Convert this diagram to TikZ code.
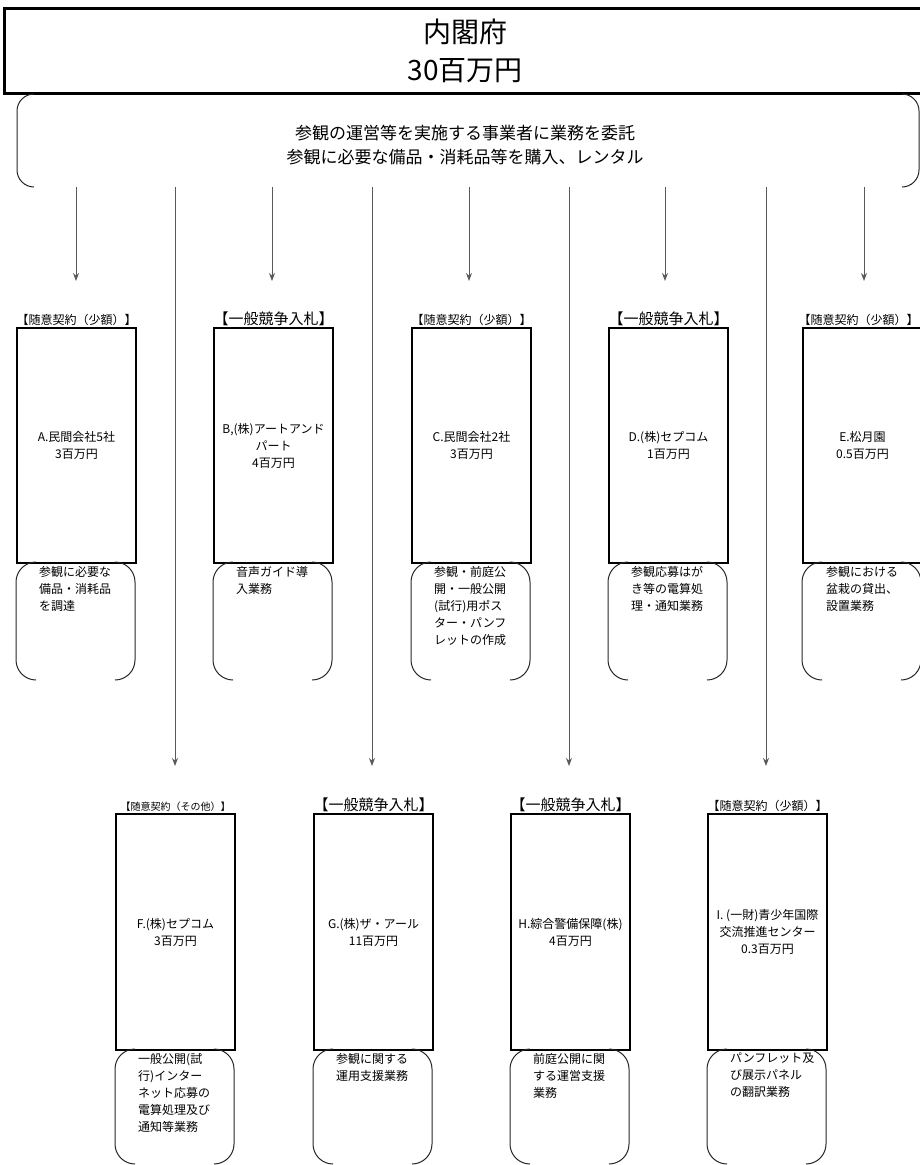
\documentclass[tikz,border=0pt]{standalone}
\usepackage{fontspec}
\setmainfont{Noto Sans CJK JP}
\usetikzlibrary{arrows.meta}
\newcommand\bktpair[5]{%
  \draw[brk] (#1+#5,#2) .. controls (#1+0.45*#5,#2) and (#1,#2+0.45*#5) .. (#1,#2+#5) -- (#1,#4-#5) .. controls (#1,#4-0.45*#5) and (#1+0.45*#5,#4) .. (#1+#5,#4);
  \draw[brk] (#3-#5,#2) .. controls (#3-0.45*#5,#2) and (#3,#2+0.45*#5) .. (#3,#2+#5) -- (#3,#4-#5) .. controls (#3,#4-0.45*#5) and (#3-0.45*#5,#4) .. (#3-#5,#4);
}
\begin{document}
\begin{tikzpicture}[x=1pt,y=-1pt,
  every node/.style={inner sep=0pt},
  firm/.style={draw, line width=2pt, minimum width=119pt, minimum height=235pt, anchor=north west, align=center, font=\fontsize{12}{17}\selectfont},
  lsmall/.style={anchor=south, font=\fontsize{12}{14}\selectfont, inner sep=1pt},
  lbig/.style={anchor=south, font=\fontsize{15}{17}\selectfont, inner sep=1pt},
  ltiny/.style={anchor=south, font=\fontsize{10}{12}\selectfont, inner sep=1pt},
  desc/.style={anchor=north west, align=left, font=\fontsize{12}{17}\selectfont},
  brk/.style={draw=black!85, line width=1pt},
  feed/.style={draw=black!65, line width=1pt, -{Stealth[length=8pt,width=6pt]}},
]
\useasboundingbox (0,0) rectangle (920,1165);
\clip (0,0) rectangle (920,1165);

% top
\node[draw, line width=2.5pt, minimum width=922pt, minimum height=85pt, anchor=north west, align=center, font=\fontsize{28}{38}\selectfont] (gov) at (3,7) {内閣府\\30百万円};
\bktpair{17}{94}{919}{187}{17}
\node[align=center, font=\fontsize{17}{24}\selectfont] (task) at (465,145) {参観の運営等を実施する事業者に業務を委託\\参観に必要な備品・消耗品等を購入、レンタル};

% top row boxes
\node[firm] (A) at (16,327) {A.民間会社5社\\3百万円};
\node[firm] (B) at (213,327) {B,(株)アートアンド\\パート\\4百万円};
\node[firm] (C) at (411,327) {C.民間会社2社\\3百万円};
\node[firm] (D) at (608,327) {D.(株)セプコム\\1百万円};
\node[firm] (E) at (802,327) {E.松月園\\0.5百万円};

\node[lsmall] (lA) at (A.north) {【随意契約（少額）】};
\node[lbig] (lB) at (B.north) {【一般競争入札】};
\node[lsmall] (lC) at (C.north) {【随意契約（少額）】};
\node[lbig] (lD) at (D.north) {【一般競争入札】};
\node[lsmall] (lE) at ([xshift=-4pt]E.north) {【随意契約（少額）】};

\bktpair{16}{562}{135}{680}{20}
\bktpair{213}{562}{332}{680}{20}
\bktpair{411}{562}{530}{680}{20}
\bktpair{608}{562}{727}{680}{20}
\bktpair{802}{562}{921}{680}{20}

\node[desc] (dA) at (39,566) {参観に必要な\\備品・消耗品\\を調達};
\node[desc] (dB) at (236,566) {音声ガイド導\\入業務};
\node[desc] (dC) at (434,566) {参観・前庭公\\開・一般公開\\(試行)用ポス\\ター・パンフ\\レットの作成};
\node[desc] (dD) at (631,566) {参観応募はが\\き等の電算処\\理・通知業務};
\node[desc] (dE) at (826,566) {参観における\\盆栽の貸出、\\設置業務};

% bottom row boxes
\node[firm, minimum height=236pt] (F) at (115,813) {F.(株)セプコム\\3百万円};
\node[firm, minimum height=236pt] (G) at (313,813) {G.(株)ザ・アール\\11百万円};
\node[firm, minimum height=236pt] (H) at (510,813) {H.綜合警備保障(株)\\4百万円};
\node[firm, minimum height=236pt] (I) at (707,813) {I. (一財)青少年国際\\交流推進センター\\0.3百万円};

\node[ltiny] (lF) at (F.north) {【随意契約（その他）】};
\node[lbig] (lG) at (G.north) {【一般競争入札】};
\node[lbig] (lH) at (H.north) {【一般競争入札】};
\node[lsmall] (lI) at (I.north) {【随意契約（少額）】};

\bktpair{115}{1049}{234}{1164}{20}
\bktpair{313}{1049}{432}{1164}{20}
\bktpair{510}{1049}{629}{1164}{20}
\bktpair{707}{1049}{826}{1164}{20}

\node[desc] (dF) at (138,1053) {一般公開(試\\行)インター\\ネット応募の\\電算処理及び\\通知等業務};
\node[desc] (dG) at (336,1053) {参観に関する\\運用支援業務};
\node[desc] (dH) at (533,1053) {前庭公開に関\\する運営支援\\業務};
\node[desc] (dI) at (730,1053) {パンフレット及\\び展示パネル\\の翻訳業務};

% connectors
\foreach \n/\x in {1/76, 2/272, 3/469, 4/665, 5/864}{
  \coordinate (s\n) at (\x,187);
  \coordinate (t\n) at (\x,281);
  \draw[feed] (s\n) -- (t\n);
}
\foreach \n/\x in {6/175, 7/372, 8/569, 9/766}{
  \coordinate (s\n) at (\x,187);
  \coordinate (t\n) at (\x,766);
  \draw[feed] (s\n) -- (t\n);
}
\end{tikzpicture}
\end{document}
